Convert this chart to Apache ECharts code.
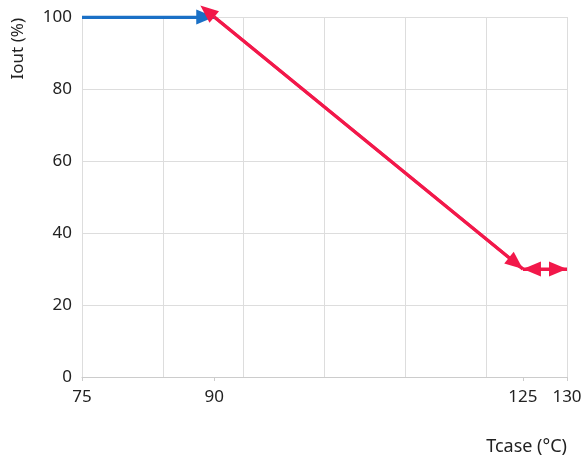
<!DOCTYPE html>
<html><head><meta charset="utf-8">
<script src="https://cdn.jsdelivr.net/npm/echarts@6/dist/echarts.min.js"></script>
<style>html,body{margin:0;padding:0;background:#fff}#c{width:586px;height:459px}</style>
</head><body><div id="c"></div>
<script>
const xLabelValues = [75, 90, 125, 130];
const yTickValues = [0, 20, 40, 60, 80, 100];
const flatSegment = [[75, 100], [90, 100]];
const derateSegment = [[90, 100], [125, 30]];
const holdSegment = [[125, 30], [130, 30]];

const chart = echarts.init(document.getElementById('c'));
const font = 'Noto Sans';
const arrowSize = [15, 18];
function seg(points, color, fromArrow, toArrow) {
  const end = (p, mode) => ({
    coord: p,
    symbol: mode ? 'triangle' : 'none',
    symbolSize: arrowSize,
    symbolOffset: mode === 'out' ? [0, '-50%'] : [0, '50%']
  });
  return {
    type: 'line', data: points, showSymbol: false, silent: true,
    lineStyle: {color: color, width: 3},
    markLine: {
      silent: true, animation: false,
      label: {show: false},
      lineStyle: {color: color, width: 3, type: 'solid'},
      itemStyle: {color: color},
      emphasis: {disabled: true},
      data: [[end(points[0], fromArrow), end(points[1], toArrow)]]
    }
  };
}
chart.setOption({
  animation: false,
  grid: {left: 82, right: 19, top: 17, bottom: 82},
  xAxis: [{
    type: 'value', min: 75, max: 130, interval: 55 / 6,
    name: 'Tcase (°C)', nameLocation: 'end', nameGap: 0,
    nameTextStyle: {fontFamily: font, fontSize: 18, color: '#222', align: 'right', verticalAlign: 'top', padding: [61, 0, 0, 0]},
    axisLine: {lineStyle: {color: '#ccc'}},
    axisTick: {show: true, customValues: xLabelValues, length: 4, lineStyle: {color: '#ccc'}},
    axisLabel: {customValues: xLabelValues, fontFamily: font, fontSize: 17, color: '#222', margin: 12},
    splitLine: {show: false}
  }, {
    type: 'value', min: 75, max: 130, interval: 55 / 6, position: 'top',
    axisLine: {show: false}, axisTick: {show: false}, axisLabel: {show: false},
    splitLine: {show: true, lineStyle: {color: '#ddd'}}
  }],
  yAxis: {
    type: 'value', min: yTickValues[0], max: yTickValues[yTickValues.length - 1], interval: 20,
    name: 'Iout (%)', nameLocation: 'end', nameRotate: 90, nameGap: -1,
    nameTextStyle: {fontFamily: font, fontSize: 17, color: '#222', align: 'right', verticalAlign: 'bottom', padding: [0, 0, 55, 0]},
    axisLine: {show: false}, axisTick: {show: false},
    axisLabel: {fontFamily: font, fontSize: 17, color: '#222', margin: 10},
    splitLine: {lineStyle: {color: '#ddd'}}
  },
  series: [
    seg(flatSegment, '#1a70c6', null, 'in'),
    seg(derateSegment, '#f2184a', 'out', 'in'),
    seg(holdSegment, '#f2184a', 'in', 'in')
  ]
});
</script></body></html>
